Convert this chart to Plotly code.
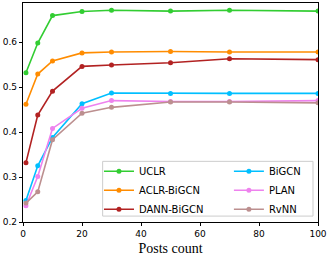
import plotly.graph_objects as go

posts = [1, 5, 10, 20, 30, 50, 70, 100]
uclr = [0.532, 0.598, 0.659, 0.668, 0.671, 0.669, 0.671, 0.669]
aclr = [0.462, 0.529, 0.558, 0.576, 0.578, 0.579, 0.578, 0.578]
dann = [0.332, 0.438, 0.491, 0.546, 0.549, 0.554, 0.563, 0.561]
bigcn = [0.248, 0.325, 0.388, 0.463, 0.487, 0.486, 0.486, 0.486]
plan = [0.236, 0.301, 0.408, 0.453, 0.470, 0.468, 0.468, 0.470]
rvnn = [0.242, 0.267, 0.383, 0.442, 0.455, 0.467, 0.467, 0.465]

series = [
    ("UCLR", uclr, "#32CD32", "legend"),
    ("ACLR-BiGCN", aclr, "#FF8C00", "legend"),
    ("DANN-BiGCN", dann, "#B22222", "legend"),
    ("BiGCN", bigcn, "#00BFFF", "legend2"),
    ("PLAN", plan, "#EE82EE", "legend2"),
    ("RvNN", rvnn, "#BC8F8F", "legend2"),
]

fig = go.Figure()
for name, vals, col, leg in series:
    fig.add_trace(go.Scatter(
        x=posts, y=vals, name=name, mode="lines+markers",
        line=dict(color=col, width=1.6),
        marker=dict(color=col, size=5),
        legend=leg,
    ))

leg_common = dict(
    yanchor="top", xanchor="left", orientation="v",
    bgcolor="rgba(0,0,0,0)", borderwidth=0,
    font=dict(family="DejaVu Sans", size=10, color="black"),
    itemwidth=30, tracegroupgap=0, traceorder="normal",
)

fig.update_layout(
    width=327, height=256,
    margin=dict(l=23, r=9, t=3, b=34),
    plot_bgcolor="white", paper_bgcolor="white",
    font=dict(family="DejaVu Sans", size=9, color="black"),
    showlegend=True,
    legend=dict(x=0.2576, y=0.298, **leg_common),
    legend2=dict(x=0.698, y=0.298, **leg_common),
    shapes=[dict(
        type="rect", xref="paper", yref="paper",
        x0=0.270, x1=0.983, y0=0.027, y1=0.277,
        line=dict(color="#cccccc", width=1),
        fillcolor="rgba(255,255,255,0.8)", layer="above",
    )],
    xaxis=dict(
        range=[0, 100], tickvals=[0, 20, 40, 60, 80, 100],
        ticks="outside", ticklen=3, tickwidth=1, tickcolor="black",
        showgrid=False, zeroline=False, automargin=False,
        showline=True, linecolor="black", linewidth=1.2, mirror=True,
        title=dict(text="Posts count",
                   font=dict(family="Liberation Serif", size=14, color="black")),
    ),
    yaxis=dict(
        range=[0.2, 0.687], tickvals=[0.2, 0.3, 0.4, 0.5, 0.6],
        ticktext=["0.2", "0.3", "0.4", "0.5", "0.6"],
        ticks="outside", ticklen=3, tickwidth=1, tickcolor="black",
        showgrid=False, zeroline=False, automargin=False,
        showline=True, linecolor="black", linewidth=1.2, mirror=True,
    ),
)

fig.write_html(
    "out.html",
    config={"displayModeBar": False},
    post_script="document.body.style.margin='0';document.body.style.overflow='hidden';",
)
